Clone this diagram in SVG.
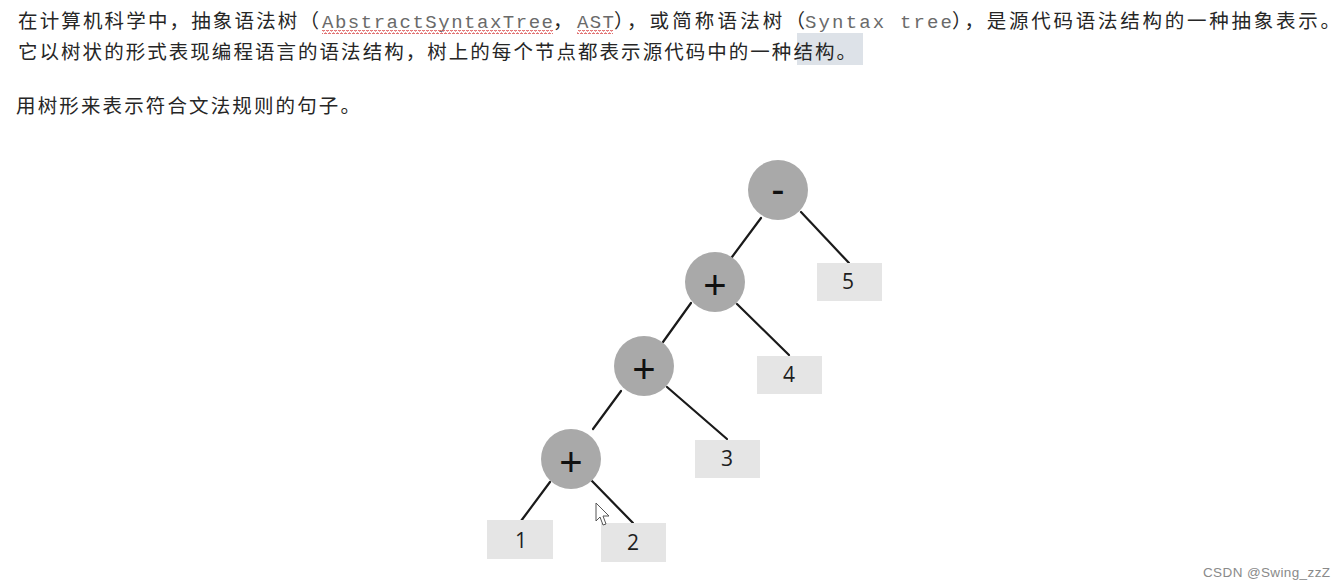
<svg xmlns="http://www.w3.org/2000/svg" width="1343" height="586" viewBox="0 0 1343 586">
  <defs>
    <style>
      .cjk { font-family: "Noto Sans CJK SC", "Noto Sans", sans-serif; font-size: 19.5px; fill: #262626; }
      .mono { font-family: "Liberation Mono", "DejaVu Sans Mono", monospace; font-size: 19px; fill: #6a6a6a; }
      .op { fill: #a9a9a9; }
      .leaf { fill: #e5e5e5; }
      .oplabel { font-family: "Liberation Sans", Arial, sans-serif; font-size: 40px; fill: #111; text-anchor: middle; }
      .num { font-family: "Open Sans", "Liberation Sans", sans-serif; font-size: 21px; fill: #1e1e1e; text-anchor: middle; }
      .edge { stroke: #1a1a1a; stroke-width: 2.2; fill: none; stroke-linecap: round; }
    </style>
    <pattern id="wave" x="0" y="0" width="4" height="4" patternUnits="userSpaceOnUse">
      <path d="M0 3 L1 1 L2 1 L3 3 L4 3" stroke="#d84040" stroke-width="1" fill="none"/>
    </pattern>
  </defs>
  <rect width="1343" height="586" fill="#ffffff"/>

  <g id="text">
    <rect x="797" y="33" width="66" height="32" fill="#dde2e8"/>
    <text class="cjk" x="18" y="28" textLength="301" lengthAdjust="spacing">在计算机科学中，抽象语法树（</text>
    <text class="mono" x="322" y="28" textLength="231" lengthAdjust="spacing">AbstractSyntaxTree</text>
    <text class="cjk" x="553" y="28">，</text>
    <text class="mono" x="577" y="28" textLength="37" lengthAdjust="spacing">AST</text>
    <text class="cjk" x="614" y="28" textLength="191" lengthAdjust="spacing">），或简称语法树（</text>
    <text class="mono" x="805" y="28" textLength="147" lengthAdjust="spacing">Syntax tree</text>
    <text class="cjk" x="952" y="28" textLength="388" lengthAdjust="spacing">），是源代码语法结构的一种抽象表示。</text>
    <rect x="322" y="30" width="231" height="4" fill="url(#wave)"/>
    <rect x="577" y="30" width="36" height="4" fill="url(#wave)"/>
    <text class="cjk" x="18" y="59" textLength="838" lengthAdjust="spacing">它以树状的形式表现编程语言的语法结构，树上的每个节点都表示源代码中的一种结构。</text>
    <text class="cjk" x="16" y="113" textLength="344" lengthAdjust="spacing">用树形来表示符合文法规则的句子。</text>
  </g>

  <g id="connectors">
    <line class="edge" x1="761" y1="218" x2="732" y2="257"/>
    <line class="edge" x1="801" y1="212" x2="849" y2="263"/>
    <line class="edge" x1="691" y1="303" x2="663" y2="342"/>
    <line class="edge" x1="737" y1="304" x2="789" y2="355"/>
    <line class="edge" x1="621" y1="391" x2="593" y2="429"/>
    <line class="edge" x1="667" y1="387" x2="727" y2="439"/>
    <line class="edge" x1="550" y1="482" x2="521" y2="521"/>
    <line class="edge" x1="592" y1="481" x2="633" y2="523"/>
  </g>

  <g id="node-minus">
    <circle class="op" cx="778" cy="190" r="30"/>
    <text class="oplabel" x="778" y="203" font-size="32">-</text>
  </g>
  <g id="node-plus1">
    <circle class="op" cx="715" cy="282" r="30"/>
    <text class="oplabel" x="715" y="299">+</text>
  </g>
  <g id="node-plus2">
    <circle class="op" cx="644" cy="366" r="30"/>
    <text class="oplabel" x="644" y="383">+</text>
  </g>
  <g id="node-plus3">
    <circle class="op" cx="571" cy="459" r="30"/>
    <text class="oplabel" x="571" y="476">+</text>
  </g>

  <g id="leaf-5">
    <rect class="leaf" x="817" y="263" width="65" height="38"/>
    <text class="num" x="848" y="289">5</text>
  </g>
  <g id="leaf-4">
    <rect class="leaf" x="757" y="356" width="65" height="38"/>
    <text class="num" x="789" y="382">4</text>
  </g>
  <g id="leaf-3">
    <rect class="leaf" x="695" y="440" width="65" height="38"/>
    <text class="num" x="727" y="466">3</text>
  </g>
  <g id="leaf-1">
    <rect class="leaf" x="487" y="520" width="66" height="39"/>
    <text class="num" x="521" y="548">1</text>
  </g>
  <g id="leaf-2">
    <rect class="leaf" x="601" y="523" width="65" height="39"/>
    <text class="num" x="633" y="550">2</text>
  </g>

  <g id="cursor">
    <polygon points="596,503 596,521 600,517 603,525 606,524 603,516 609,516" fill="#ffffff" stroke="#555" stroke-width="1" stroke-linejoin="round"/>
  </g>

  <text x="1203" y="577" font-family="Liberation Sans, Arial, sans-serif" font-size="13.5" fill="#8a8a8a" textLength="127" lengthAdjust="spacing">CSDN @Swing_zzZ</text>
</svg>
